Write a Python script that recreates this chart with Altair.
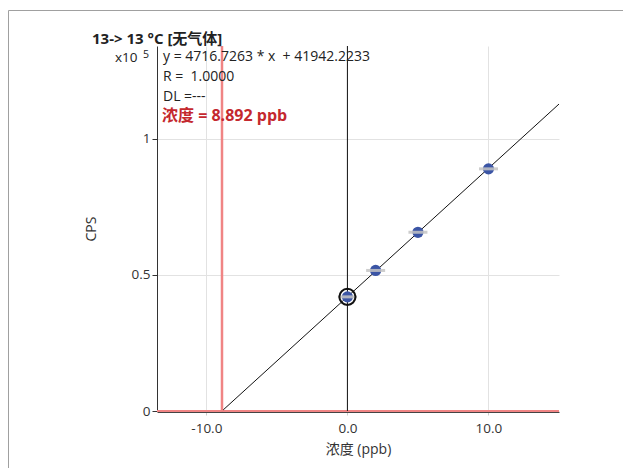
import altair as alt
import pandas as pd

# ---- data ----
std_conc = [0, 2, 5, 10]                    # ppb
std_cps = [0.419, 0.516, 0.656, 0.889]       # x10^5 CPS
ring_conc = [0]
ring_cps = [0.419]
fit_x = [-8.892, 15.0]
fit_y = [0.0, 1.1269]
result_conc = [-8.892]
x_ticks = [-10, 0, 10]
y_ticks = [0, 0.5, 1]
eq_lines = ["y = 4716.7263 * x \u00a0+ 41942.2233", "R = \u00a01.0000", "DL =---"]
result_text = "浓度 = 8.892 ppb"
title_text = "13-> 13 °C [无气体]"

FONT = "'Open Sans', 'Noto Sans CJK SC', sans-serif"
XD = [-13.5, 15]
YD = [0, 1.34]
xs = alt.Scale(domain=XD, nice=False, zero=False)
ys = alt.Scale(domain=YD, nice=False, zero=False)

std_df = pd.DataFrame({"c": std_conc, "v": std_cps})
ring_df = pd.DataFrame({"c": ring_conc, "v": ring_cps})
fit_df = pd.DataFrame({"c": fit_x, "v": fit_y})
res_df = pd.DataFrame({"c": result_conc})
zero_df = pd.DataFrame({"c": [0], "v": [0]})

xaxis = alt.Axis(values=x_ticks, title="浓度 (ppb)", domain=True, domainColor="#444",
                 offset=1, ticks=True, tickSize=3, tickColor="#ccc",
                 labelPadding=6, labelFontSize=13.5, labelColor="#333",
                 titleFontSize=14, titleFontWeight="normal", titleColor="#333",
                 titlePadding=8, gridColor="#e2e2e2",
                 labelExpr="datum.value < 0 ? '-' + format(-datum.value, '.1f') : format(datum.value, '.1f')")
yaxis = alt.Axis(values=y_ticks, title="CPS", format="~g", domainColor="#333",
                 tickColor="#333", tickSize=5, labelFontSize=13.5, labelColor="#333",
                 titleFontSize=14, titleFontWeight="normal", titleColor="#333",
                 titlePadding=33, gridColor="#e2e2e2")

base_grid = alt.Chart(zero_df).mark_point(opacity=0).encode(
    x=alt.X("c:Q", scale=xs, axis=xaxis),
    y=alt.Y("v:Q", scale=ys, axis=yaxis),
)

hline = alt.Chart(zero_df).mark_rule(color="#f08484", strokeWidth=2.2).encode(
    y=alt.Y("v:Q", scale=ys), x=alt.value(0), x2=alt.value(402))

fit = alt.Chart(fit_df).mark_line(color="#111", strokeWidth=1).encode(
    x=alt.X("c:Q", scale=xs), y=alt.Y("v:Q", scale=ys))

vzero = alt.Chart(zero_df).mark_rule(color="#111", strokeWidth=1).encode(
    x=alt.X("c:Q", scale=xs), y=alt.value(0), y2=alt.value(365))

vres = alt.Chart(res_df).mark_rule(color="#f08484", strokeWidth=2.5).encode(
    x=alt.X("c:Q", scale=xs), y=alt.value(0), y2=alt.value(365))

pts = alt.Chart(std_df).mark_circle(color="#3b55a5", opacity=1, size=125).encode(
    x=alt.X("c:Q", scale=xs), y=alt.Y("v:Q", scale=ys))

errs = alt.Chart(std_df).mark_tick(orient="horizontal", color="#c4c4c4", opacity=0.85,
                                   size=19, thickness=3).encode(
    x=alt.X("c:Q", scale=xs), y=alt.Y("v:Q", scale=ys))

ring = alt.Chart(ring_df).mark_point(shape="circle", filled=False, color="#111",
                                     strokeWidth=2, size=260, opacity=1).encode(
    x=alt.X("c:Q", scale=xs), y=alt.Y("v:Q", scale=ys))

eq_df = pd.DataFrame({"t": eq_lines, "yy": [15, 35, 55]})
eq = alt.Chart(eq_df).mark_text(align="left", baseline="alphabetic", font=FONT,
                                fontSize=14, color="#222").encode(
    x=alt.value(6), y=alt.Y("yy:Q", scale=None), text="t:N")

res_txt = alt.Chart(pd.DataFrame({"t": [result_text]})).mark_text(
    align="left", baseline="alphabetic", font=FONT, fontSize=16, fontWeight="bold",
    color="#c4282e").encode(x=alt.value(5), y=alt.value(75), text="t:N")

title = alt.Chart(pd.DataFrame({"t": [title_text]})).mark_text(
    align="left", baseline="alphabetic", font=FONT, fontSize=15, fontWeight="bold",
    color="#222").encode(x=alt.value(-65), y=alt.value(-2), text="t:N")

x10 = alt.Chart(pd.DataFrame({"t": ["x10"]})).mark_text(
    align="left", baseline="alphabetic", font=FONT, fontSize=13.5, color="#222").encode(
    x=alt.value(-42), y=alt.value(16), text="t:N")
exp5 = alt.Chart(pd.DataFrame({"t": ["5"]})).mark_text(
    align="left", baseline="alphabetic", font=FONT, fontSize=10.5, color="#222").encode(
    x=alt.value(-14), y=alt.value(12), text="t:N")

frame_left = alt.Chart(zero_df).mark_rule(color="#a0a0a0", strokeWidth=1).encode(
    x=alt.value(-148.5), y=alt.value(-35.5), y2=alt.value(430))
frame_top = alt.Chart(zero_df).mark_rule(color="#a0a0a0", strokeWidth=1).encode(
    x=alt.value(-148.5), x2=alt.value(470), y=alt.value(-35.5))

chart = alt.layer(
    base_grid, frame_left, frame_top, hline, fit, vzero, vres, pts, errs, ring,
    eq, res_txt, title, x10, exp5,
).properties(
    width=402, height=365,
    padding={"left": 149, "top": 38, "right": 64, "bottom": 60},
    autosize=alt.AutoSizeParams(type="none"),
).configure(font=FONT).configure_view(stroke=None).configure_axis(
    labelFont=FONT, titleFont=FONT)

chart.save("out.html", embed_options={"renderer": "svg", "actions": False})
